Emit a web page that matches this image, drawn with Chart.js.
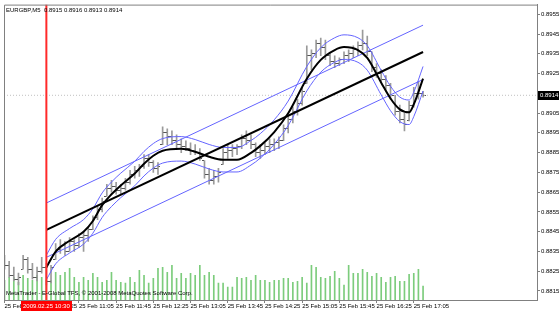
<!DOCTYPE html>
<html>
<head>
<meta charset="utf-8">
<script src="https://cdn.jsdelivr.net/npm/chart.js@4.4.1/dist/chart.umd.min.js"></script>
<style>
  html, body { margin: 0; padding: 0; background: #fff; }
  #wrap { width: 560px; height: 311px; position: relative; }
</style>
</head>
<body>
<div id="wrap"><canvas id="chart"></canvas></div>
<script>
"use strict";

/* EURGBP M5 — 25 Feb 2009, 09:45 .. 17:15 (bar index 0..90) */
var SYMBOL    = 'EURGBP,M5';
var COPYRIGHT = 'MetaTrader - E-Global TFS, \u00a9 2001-2008 MetaQuotes Software Corp.';
var MARK_IDX  = 9;                     // vertical line bar (10:30)
var MARK_TIME = '2009.02.25 10:30';

var opens  = [.8830,.8828,.8823,.8821,.8826,.8831,.8826,.8822,.8825,.8827,
              .8820,.8831,.8836,.8838,.8835,.8840,.8838,.8842,.8843,.8846,
              .8852,.8856,.8863,.8867,.8868,.8866,.8867,.8870,.8874,.8876,
              .8878,.8882,.8880,.8877,.8889,.8895,.8893,.8891,.8889,.8888,
              .8887,.8886,.8885,.8881,.8874,.8871,.8873,.8879,.8885,.8886,
              .8887,.8888,.8892,.8891,.8889,.8885,.8886,.8888,.8889,.8890,
              .8891,.8897,.8902,.8906,.8910,.8920,.8934,.8935,.8940,.8938,
              .8934,.8931,.8930,.8932,.8934,.8935,.8937,.8939,.8940,.8936,
              .8928,.8925,.8922,.8919,.8914,.8906,.8902,.8901,.8909,.8915,
              .8915];
var highs  = [.8833,.8830,.8827,.8824,.8833,.8832,.8829,.8827,.8832,.8829,
              .8828,.8839,.8841,.8840,.8842,.8841,.8844,.8845,.8847,.8853,
              .8858,.8862,.8869,.8871,.8870,.8869,.8872,.8876,.8878,.8879,
              .8884,.8884,.8881,.8880,.8898,.8897,.8896,.8894,.8892,.8891,
              .8890,.8889,.8887,.8881,.8877,.8876,.8877,.8887,.8889,.8889,
              .8889,.8894,.8896,.8894,.8890,.8889,.8890,.8892,.8892,.8893,
              .8899,.8904,.8908,.8912,.8918,.8939,.8937,.8942,.8943,.8942,
              .8935,.8934,.8933,.8936,.8937,.8939,.8941,.8947,.8944,.8936,
              .8930,.8927,.8924,.8920,.8914,.8909,.8905,.8911,.8918,.8921,
              .8916];
var lows   = [.8826,.8822,.8820,.8818,.8826,.8824,.8821,.8820,.8824,.8818,
              .8819,.8831,.8834,.8833,.8835,.8835,.8837,.8835,.8840,.8846,
              .8851,.8855,.8863,.8865,.8864,.8864,.8866,.8869,.8872,.8873,
              .8877,.8878,.8875,.8874,.8889,.8889,.8889,.8887,.8885,.8886,
              .8884,.8884,.8881,.8872,.8869,.8869,.8870,.8879,.8882,.8883,
              .8884,.8887,.8889,.8887,.8883,.8882,.8884,.8885,.8886,.8887,
              .8891,.8895,.8900,.8904,.8909,.8920,.8927,.8933,.8934,.8932,
              .8929,.8928,.8929,.8930,.8931,.8933,.8934,.8937,.8934,.8926,
              .8923,.8921,.8917,.8912,.8904,.8900,.8896,.8901,.8908,.8912,
              .8913];
var closes = [.8828,.8823,.8821,.8822,.8831,.8826,.8822,.8825,.8827,.8820,
              .8827,.8836,.8838,.8835,.8840,.8838,.8842,.8843,.8846,.8852,
              .8856,.8860,.8867,.8868,.8866,.8867,.8870,.8874,.8876,.8878,
              .8882,.8880,.8877,.8878,.8895,.8893,.8891,.8889,.8888,.8887,
              .8886,.8885,.8882,.8874,.8871,.8873,.8875,.8885,.8886,.8887,
              .8888,.8892,.8891,.8889,.8885,.8886,.8888,.8889,.8890,.8891,
              .8897,.8902,.8906,.8910,.8916,.8934,.8935,.8940,.8938,.8934,
              .8931,.8930,.8932,.8934,.8935,.8937,.8939,.8940,.8936,.8928,
              .8925,.8922,.8919,.8914,.8906,.8902,.8899,.8909,.8915,.8915,
              .8914];
var volumes = [80,92,92,72,100,88,80,100,92,80,
               80,112,100,112,128,92,72,92,80,108,
               92,72,80,112,80,72,68,92,72,120,
               100,68,88,128,132,112,140,88,108,88,
               108,100,140,100,112,100,68,68,52,52,
               92,88,92,80,100,80,80,72,80,80,
               88,88,72,76,92,68,140,132,92,88,
               96,116,88,60,140,108,108,124,112,96,
               108,92,72,92,96,76,76,104,108,124,
               56];

/* linear regression channel (bar 9 -> bar 90) */
var regIdx   = [9, 90];
var regMid   = [0.88459, 0.89359];
var regUpper = [0.88595, 0.89495];
var regLower = [0.88320, 0.89220];

/* polynomial regression curve and its bands */
var polyIdx   = [9,11,14,17,19,21,23,25,28,30,32,34,38,41,44,47,50,53,55,58,61,65,68,71,73,76,78,81,83,85,87,88,90];
var polyMid   = [0.88269,0.88349,0.88404,0.88449,0.88504,0.88584,0.88639,0.88684,0.88744,0.88794,0.88834,
                 0.88859,0.88869,0.88854,0.88829,0.88814,0.88814,0.88849,0.88884,0.88954,0.89049,0.89224,
                 0.89319,0.89369,0.89384,0.89369,0.89329,0.89204,0.89124,0.89069,0.89054,0.89094,0.89224];
var polyUpper = [0.88331,0.88411,0.88466,0.88511,0.88566,0.88646,0.88701,0.88746,0.88806,0.88856,0.88896,
                 0.88921,0.88931,0.88916,0.88891,0.88876,0.88876,0.88911,0.88946,0.89016,0.89111,0.89286,
                 0.89381,0.89431,0.89446,0.89431,0.89391,0.89266,0.89186,0.89131,0.89116,0.89156,0.89286];
var polyLower = [0.88207,0.88287,0.88342,0.88387,0.88442,0.88522,0.88577,0.88622,0.88682,0.88732,0.88772,
                 0.88797,0.88807,0.88792,0.88767,0.88752,0.88752,0.88787,0.88822,0.88892,0.88987,0.89162,
                 0.89257,0.89307,0.89322,0.89307,0.89267,0.89142,0.89062,0.89007,0.88992,0.89032,0.89162];

/* axes */
var timeIdx    = [0, 8, 16, 24, 32, 40, 48, 56, 64, 72, 80, 88];
var timeLabels = ['25 Feb 09:45','25 Feb 10:25','25 Feb 11:05','25 Feb 11:45','25 Feb 12:25','25 Feb 13:05',
                  '25 Feb 13:45','25 Feb 14:25','25 Feb 15:05','25 Feb 15:45','25 Feb 16:25','25 Feb 17:05'];
var priceTicks = [0.8815,0.8825,0.8835,0.8845,0.8855,0.8865,0.8875,0.8885,0.8895,0.8905,0.8915,0.8925,0.8935,0.8945,0.8955];
var PRICE_MIN = 0.88104, PRICE_MAX = 0.89599;
var X_MIN = -0.11, X_MAX = 114.5;
var VOL_MAX = 1196;

var FONT = "'Liberation Sans', Arial, sans-serif";
var GRAY = '#808080', BLUE = '#6464ff';
var f4 = function(v) { return v.toFixed(4); };

Chart.defaults.font.family = FONT;
Chart.defaults.font.size   = 6;
Chart.defaults.color       = '#000';

/* small open / close tick marks for the OHLC bars */
function tickMark(side) {
  var c = document.createElement('canvas');
  c.width = 5; c.height = 1;
  var g = c.getContext('2d');
  g.fillStyle = '#555';
  g.fillRect(side === 'open' ? 0 : 3, 0, 2, 1);
  return c;
}

function xy(xs, ys) { return xs.map(function(x, i) { return { x: x, y: ys[i] }; }); }
var bars = closes.map(function(_, i) { return i; });

function lineSet(data, color, width, order, extra) {
  var ds = { type: 'line', data: data, borderColor: color, borderWidth: width,
             pointRadius: 0, fill: false, order: order };
  for (var k in (extra || {})) ds[k] = extra[k];
  return ds;
}

var bidValue = closes[closes.length - 1];

var decor = {
  id: 'mt4Decor',
  afterDraw: function(chart) {
    var ctx = chart.ctx, a = chart.chartArea;
    var sx = chart.scales.x, sy = chart.scales.y;
    var n = closes.length - 1;
    ctx.save();
    ctx.strokeStyle = GRAY; ctx.lineWidth = 1;
    ctx.beginPath();
    ctx.moveTo(a.left + 0.5, a.bottom); ctx.lineTo(a.left + 0.5, a.top + 0.5); ctx.lineTo(a.right, a.top + 0.5);
    ctx.stroke();

    ctx.font = '6px ' + FONT; ctx.textBaseline = 'middle'; ctx.textAlign = 'left';
    ctx.fillStyle = '#000';
    ctx.fillText(SYMBOL + '  ' + [opens[n], highs[n], lows[n], closes[n]].map(f4).join(' '), a.left + 2, a.top + 6);
    ctx.fillText(COPYRIGHT, a.left + 2, a.bottom - 7);

    var by = Math.round(sy.getPixelForValue(bidValue));
    ctx.fillStyle = '#000'; ctx.fillRect(a.right + 1, by - 4, 21, 9);
    ctx.fillStyle = '#fff'; ctx.fillText(f4(bidValue), a.right + 3, by + 0.5);

    var rx = sx.getPixelForValue(MARK_IDX);
    var w = ctx.measureText(MARK_TIME).width + 4;
    ctx.fillStyle = '#ff0000'; ctx.fillRect(Math.round(rx - w / 2), a.bottom + 1, Math.round(w), 10);
    ctx.fillStyle = '#fff'; ctx.textAlign = 'center'; ctx.fillText(MARK_TIME, rx, a.bottom + 6);
    ctx.restore();
  }
};

new Chart(document.getElementById('chart'), {
  type: 'bar',
  data: {
    datasets: [
      { type: 'bar', data: xy(bars, volumes), yAxisID: 'yv', backgroundColor: '#7ccc7c',
        barThickness: 1, grouped: false, order: 20 },
      { type: 'bar', data: bars.map(function(i) { return { x: i, y: [lows[i], highs[i]] }; }),
        backgroundColor: '#9a9a9a', barThickness: 1, grouped: false, order: 19 },
      lineSet(xy(bars, opens),  'transparent', 0, 18, { showLine: false, pointRadius: 3, pointStyle: tickMark('open') }),
      lineSet(xy(bars, closes), 'transparent', 0, 17, { showLine: false, pointRadius: 3, pointStyle: tickMark('close') }),
      lineSet([{ x: X_MIN, y: bidValue }, { x: X_MAX, y: bidValue }], '#c0c0c0', 1, 16, { borderDash: [1, 2] }),
      lineSet(xy(regIdx, regUpper), BLUE, 1, 10),
      lineSet(xy(regIdx, regLower), BLUE, 1, 10),
      lineSet(xy(polyIdx, polyUpper), BLUE, 1, 9, { cubicInterpolationMode: 'monotone' }),
      lineSet(xy(polyIdx, polyLower), BLUE, 1, 9, { cubicInterpolationMode: 'monotone' }),
      lineSet(xy(regIdx, regMid), '#000', 2, 5),
      lineSet(xy(polyIdx, polyMid), '#000', 2, 4, { cubicInterpolationMode: 'monotone' }),
      lineSet([{ x: MARK_IDX, y: PRICE_MIN }, { x: MARK_IDX, y: PRICE_MAX }], '#ff2a2a', 2, 0)
    ]
  },
  options: {
    responsive: true,
    maintainAspectRatio: false,
    animation: false,
    events: [],
    layout: { padding: { left: 1, top: 1, right: 0, bottom: 0 } },
    plugins: { legend: { display: false }, tooltip: { enabled: false } },
    scales: {
      x: {
        type: 'linear', position: 'bottom', min: X_MIN, max: X_MAX, offset: false,
        afterBuildTicks: function(s) { s.ticks = timeIdx.map(function(v) { return { value: v }; }); },
        afterFit: function(s) { s.height = 11; },
        ticks: { align: 'start', autoSkip: false, maxRotation: 0, padding: 0,
                 callback: function(v) { var k = timeIdx.indexOf(v); return k < 0 ? '' : timeLabels[k]; } },
        grid: { offset: false, drawOnChartArea: false, drawTicks: true, tickLength: 3, color: GRAY },
        border: { color: GRAY }
      },
      y: {
        type: 'linear', position: 'right', min: PRICE_MIN, max: PRICE_MAX,
        afterBuildTicks: function(s) { s.ticks = priceTicks.map(function(v) { return { value: v }; }); },
        afterFit: function(s) { s.width = 23; },
        ticks: { padding: 1, callback: function(v) { return f4(v); } },
        grid: { drawOnChartArea: false, drawTicks: true, tickLength: 3, color: GRAY },
        border: { color: GRAY }
      },
      yv: { display: false, min: 0, max: VOL_MAX }
    }
  },
  plugins: [decor]
});
</script>
</body>
</html>
